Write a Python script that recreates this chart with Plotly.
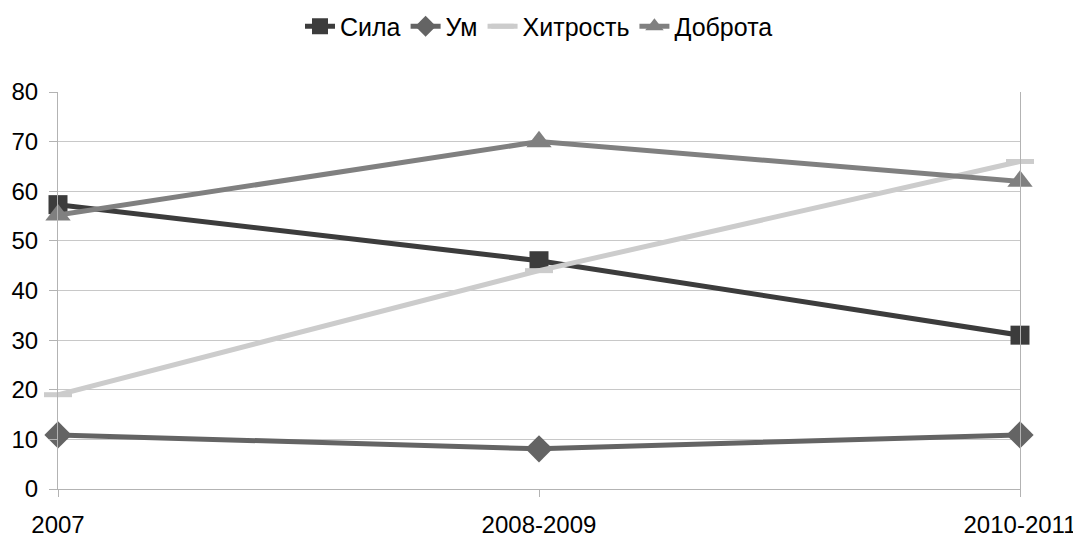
import plotly.graph_objects as go

categories = ["2007", "2008-2009", "2010-2011"]
sila = [57.3, 46, 31]
um = [10.9, 8.1, 10.9]
hitrost = [19, 44, 66]
dobrota = [55.2, 70, 62]
y_ticks = [0, 10, 20, 30, 40, 50, 60, 70, 80]

FONT = "Liberation Sans, Arial, sans-serif"

fig = go.Figure()
fig.add_trace(go.Scatter(x=categories, y=sila, name="Сила", mode="lines+markers",
                         line=dict(color="#3c3c3c", width=5), cliponaxis=False,
                         marker=dict(symbol="square", size=19, color="#3c3c3c")))
fig.add_trace(go.Scatter(x=categories, y=um, name="Ум", mode="lines+markers",
                         line=dict(color="#646464", width=5), cliponaxis=False,
                         marker=dict(symbol="diamond", size=21, color="#646464")))
fig.add_trace(go.Scatter(x=categories, y=hitrost, name="Хитрость", mode="lines+markers",
                         line=dict(color="#cccccc", width=5), cliponaxis=False,
                         marker=dict(symbol="line-ew", size=20, color="#cccccc",
                                     line=dict(color="#cccccc", width=5))))
fig.add_trace(go.Scatter(x=categories, y=dobrota, name="Доброта", mode="lines+markers",
                         line=dict(color="#808080", width=5), cliponaxis=False,
                         marker=dict(symbol="triangle-up", size=22, color="#808080")))

fig.update_layout(
    width=1073, height=531,
    margin=dict(l=50, r=61, t=84, b=50, autoexpand=False),
    paper_bgcolor="white", plot_bgcolor="white",
    font=dict(family=FONT, size=24, color="black"),
    showlegend=True,
    legend=dict(orientation="h", x=0.5, xanchor="center", y=1.165, yanchor="middle",
                font=dict(size=25), itemsizing="trace"),
    xaxis=dict(type="category", range=[0, 2], showgrid=False, automargin=False,
               showline=True, linecolor="#b3b3b3", linewidth=1,
               ticks="outside", ticklen=7, tickcolor="#b3b3b3", ticklabelstandoff=7,
               tickfont=dict(size=24), zeroline=False),
    yaxis=dict(range=[0, 80], tickvals=y_ticks, showgrid=True, gridcolor="#c8c8c8",
               gridwidth=1, showline=True, linecolor="#b3b3b3", mirror=True,
               automargin=False, ticklabelstandoff=6,
               ticks="outside", ticklen=8, tickcolor="#b3b3b3",
               tickfont=dict(size=24), zeroline=False),
)
fig.write_html("out.html")
